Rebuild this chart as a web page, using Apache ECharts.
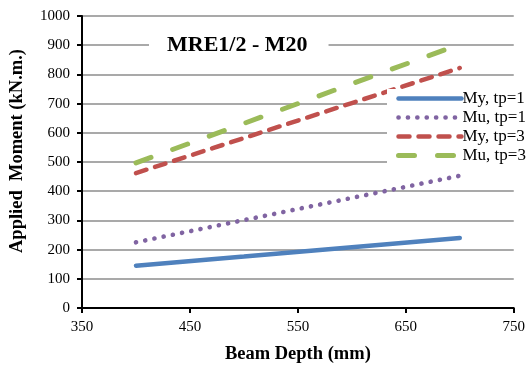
<!DOCTYPE html>
<html><head><meta charset="utf-8">
<script src="https://cdn.jsdelivr.net/npm/echarts@6/dist/echarts.min.js"></script>
<style>html,body{margin:0;padding:0;background:#fff}#c{width:528px;height:369px}</style>
</head><body><div id="c"></div>
<script>
const depths = [400, 500, 600, 700];
const myTp1 = [145, 176, 208, 240];
const muTp1 = [225, 301, 377, 453];
const myTp3 = [462, 582, 702, 822];
const muTp3 = [497, 632, 768, 903];
const seriesNames = ['My, tp=1', 'Mu, tp=1', 'My, tp=3', 'Mu, tp=3'];
const titleText = 'MRE1/2 - M20';
const xName = 'Beam Depth (mm)';
const yName = 'Applied  Moment (kN.m.)';

const F = 'Liberation Serif, Times New Roman, serif';
const pairs = a => depths.map((d, i) => [d, a[i]]);
const styles = [
  {color: '#4F81BD', width: 4.5, type: 'solid'},
  {color: '#8064A2', width: 4.6, type: [0.1, 9.3]},
  {color: '#C0504D', width: 4.5, type: [11, 9]},
  {color: '#9BBB59', width: 5, type: [16, 23]}
];
const allData = [myTp1, muTp1, myTp3, muTp3];
const chart = echarts.init(document.getElementById('c'), null, {renderer: 'canvas'});
chart.setOption({
  animation: false,
  backgroundColor: '#fff',
  title: {
    text: titleText, left: 149, top: 30,
    backgroundColor: '#fff', padding: [4, 21, 4, 18],
    textStyle: {fontFamily: F, fontSize: 22, fontWeight: 'bold', color: '#000'}
  },
  legend: {
    orient: 'vertical', left: 387, top: 89,
    backgroundColor: '#fff', padding: [1, 10, 4, 9],
    itemWidth: 63, itemHeight: 14, itemGap: 2,
    data: seriesNames.map((n, i) => ({
      name: n,
      itemStyle: {opacity: 0},
      lineStyle: {color: styles[i].color, width: styles[i].width, type: styles[i].type, cap: 'round'}
    })),
    textStyle: {fontFamily: F, fontSize: 17, lineHeight: 16, color: '#000', padding: [0, 0, 0, -4]}
  },
  grid: {left: 82, right: 14, top: 16, bottom: 59},
  xAxis: {
    type: 'value', min: 350, max: 750, interval: 100,
    name: xName, nameLocation: 'middle', nameGap: 37,
    nameTextStyle: {fontFamily: F, fontSize: 18.5, fontWeight: 'bold', color: '#000'},
    axisLine: {lineStyle: {color: '#000', width: 2}},
    axisTick: {show: true, length: 5, lineStyle: {color: '#000', width: 2}},
    axisLabel: {fontFamily: F, fontSize: 15, color: '#000', margin: 12},
    splitLine: {show: false}
  },
  yAxis: {
    type: 'value', min: 0, max: 1000, interval: 100,
    name: yName, nameLocation: 'middle', nameGap: 55,
    nameTextStyle: {fontFamily: F, fontSize: 18.5, fontWeight: 'bold', color: '#000', padding: [0, 0, 0, 22]},
    axisLine: {show: true, lineStyle: {color: '#000', width: 2}},
    axisTick: {show: true, length: 5, lineStyle: {color: '#000', width: 2}},
    axisLabel: {fontFamily: F, fontSize: 15, color: '#000', margin: 12, formatter: v => String(v)},
    splitLine: {show: true, lineStyle: {color: '#8c8c8c', width: 1.5}}
  },
  series: seriesNames.map((n, i) => ({
    name: n, type: 'line', data: pairs(allData[i]), symbol: 'none',
    itemStyle: {color: styles[i].color},
    lineStyle: {color: styles[i].color, width: styles[i].width, type: styles[i].type, cap: 'round'}
  }))
});
</script></body></html>
